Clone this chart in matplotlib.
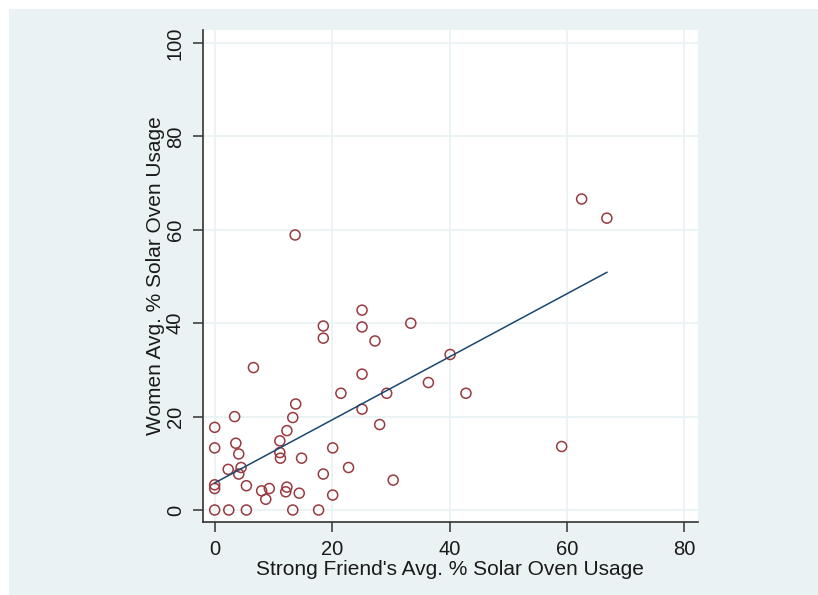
import matplotlib
matplotlib.use('Agg')
import matplotlib.pyplot as plt
from matplotlib.patches import Rectangle

# friend usage (x) and women usage (y)
friend_pct = [0, 2.4, 5.4, 13.3, 17.7,
              0, 0, 0, 0,
              3.4, 3.6, 4.1, 2.3, 4.5, 4.1,
              5.4, 8.0, 9.3, 8.7,
              12.3, 12.1, 14.4,
              13.8, 13.3, 12.3, 11.1, 11.1, 11.2, 14.8,
              20.1, 18.5, 22.8, 20.1,
              21.5, 25.1,
              13.7, 6.6, 18.5, 18.5, 25.1, 25.1, 27.3, 33.4, 25.1, 40.1, 36.4,
              42.8, 29.3, 28.1, 30.4,
              62.5, 66.8, 59.1]
women_pct = [0, 0, 0, 0, 0,
             17.7, 13.3, 5.4, 4.6,
             20.0, 14.3, 12.0, 8.7, 9.1, 7.7,
             5.2, 4.1, 4.6, 2.3,
             4.9, 3.9, 3.6,
             22.7, 19.8, 17.0, 14.8, 12.3, 11.1, 11.1,
             13.3, 7.7, 9.1, 3.2,
             25.0, 21.6,
             58.9, 30.5, 39.4, 36.8, 42.8, 39.2, 36.2, 40.0, 29.1, 33.3, 27.3,
             25.0, 25.0, 18.3, 6.4,
             66.6, 62.5, 13.6]

# fitted line end points
fit_x = [0, 66.8]
fit_y = [5.8, 50.9]

x_ticks = [0, 20, 40, 60, 80]
y_ticks = [0, 20, 40, 60, 80, 100]

BG = '#EAF2F3'
plt.rcParams['font.family'] = ['Liberation Sans', 'DejaVu Sans']

fig = plt.figure(figsize=(8.18, 5.95), dpi=100)
fig.patch.set_facecolor('white')
fig.add_artist(Rectangle((9 / 818, 0), 1, 1 - 9 / 595, transform=fig.transFigure,
                         facecolor=BG, edgecolor='none', zorder=-10))

ax = fig.add_axes([203 / 818, 1 - 522 / 595, (697.7 - 203) / 818, (522 - 29.5) / 595])
ax.set_facecolor('white')
ax.set_xlim(-1.99, 82.27)
ax.set_ylim(-2.57, 102.9)

ax.set_xticks(x_ticks)
ax.set_yticks(y_ticks)
ax.grid(True, color=BG, linewidth=1.3)
ax.set_axisbelow(True)

ax.scatter(friend_pct, women_pct, s=52, facecolors='none', edgecolors='#983A40',
           linewidths=1.1, zorder=3)
ax.plot(fit_x, fit_y, color='#1A476F', linewidth=1.1, zorder=4)

for side in ['top', 'right']:
    ax.spines[side].set_visible(False)
for side in ['left', 'bottom']:
    ax.spines[side].set_color('#333333')
    ax.spines[side].set_linewidth(1.2)

ax.tick_params(axis='both', direction='out', length=7, width=1.1, color='#333333',
               labelsize=14.5, labelcolor='#1a1a1a', pad=6)
for lab in ax.get_yticklabels():
    lab.set_rotation(90)
    lab.set_va('center')

ax.set_xlabel("Strong Friend's Avg. % Solar Oven Usage", fontsize=15, color='#1a1a1a', labelpad=1)
ax.set_ylabel('Women Avg. % Solar Oven Usage', fontsize=15, color='#1a1a1a', labelpad=1)

fig.savefig('out.png', dpi=100)
